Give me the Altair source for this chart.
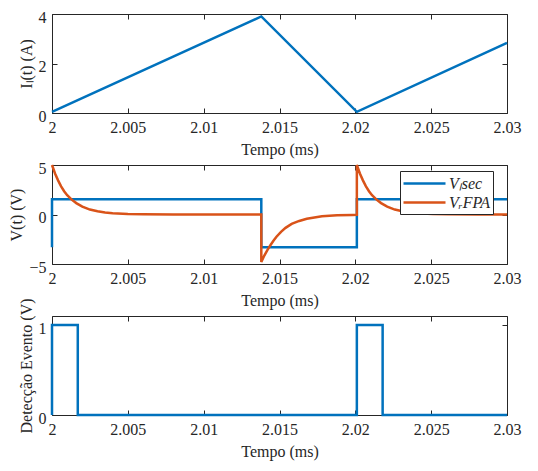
import altair as alt
import pandas as pd

# ---------------- data ----------------
X_TICKS = [2, 2.005, 2.01, 2.015, 2.02, 2.025, 2.03]

# inductor current I_L(t)
t_il = [2.0, 2.0138, 2.0201, 2.03]
il = [0.05, 3.9, 0.05, 2.83]

# V_L sec
t_vl = [2.0, 2.0, 2.0138, 2.0138, 2.0201, 2.0201, 2.03]
vl = [-3.3, 1.55, 1.55, -3.3, -3.3, 1.55, 1.55]

# V_R FPA
t_vr = [2.0, 2.0002, 2.0004, 2.0006, 2.0008, 2.001, 2.0013, 2.0016, 2.002, 2.0025,
        2.003, 2.0035, 2.004, 2.005, 2.006, 2.008, 2.0138,
        2.0138, 2.014, 2.0142, 2.0144, 2.0146, 2.0148, 2.0151, 2.0154, 2.0158, 2.0163,
        2.0168, 2.0173, 2.0178, 2.0188, 2.0198, 2.0201,
        2.0201, 2.0203, 2.0205, 2.0207, 2.0209, 2.0211, 2.0214, 2.0217, 2.0221, 2.0226,
        2.0231, 2.0236, 2.0241, 2.0251, 2.0261, 2.0281, 2.03]
vr = [5.0, 4.15, 3.45, 2.85, 2.35, 1.95, 1.5, 1.15, 0.8, 0.5,
      0.32, 0.2, 0.13, 0.05, 0.02, 0.0, 0.0,
      -4.8, -4.15, -3.6, -3.1, -2.65, -2.25, -1.75, -1.35, -0.95, -0.65,
      -0.43, -0.3, -0.18, -0.08, -0.04, -0.03,
      5.0, 4.15, 3.45, 2.85, 2.35, 1.95, 1.5, 1.15, 0.8, 0.5,
      0.32, 0.2, 0.13, 0.05, 0.02, 0.0, 0.0]

# event detection
t_ev = [2.0, 2.0, 2.0017, 2.0017, 2.0201, 2.0201, 2.0218, 2.0218, 2.03]
ev = [0, 1, 1, 0, 0, 1, 1, 0, 0]

SERIES = ["V\u2097sec", "V\u1d63FPA"]
BLUE = "#0072BD"
ORANGE = "#D95319"
FONT = "Liberation Serif"
INK = "#262626"
W, H = 455, 99

df_il = pd.DataFrame({"t": t_il, "v": il, "i": range(len(t_il))})
df_ev = pd.DataFrame({"t": t_ev, "v": ev, "i": range(len(t_ev))})
df_v = pd.concat([
    pd.DataFrame({"t": t_vl, "v": vl, "i": range(len(t_vl)), "s": SERIES[0]}),
    pd.DataFrame({"t": t_vr, "v": vr, "i": range(len(t_vr)), "s": SERIES[1]}),
])


def axis_main_x():
    return alt.Axis(values=X_TICKS, format="~g", title="Tempo (ms)", orient="bottom",
                    offset=-5, tickSize=5, domain=False, grid=False, labelPadding=6,
                    titlePadding=6, labelFlush=False, labelOverlap=False)


def axis_main_y(title, ticks):
    return alt.Axis(values=ticks, format="~g", title=title, orient="left", offset=-5,
                    tickSize=5, domain=False, grid=False, labelPadding=6, titlePadding=4,
                    labelFlush=False, labelOverlap=False, labelOffset=3)


def panel(df, ytitle, ydom, yticks, color):
    xs = alt.Scale(domain=[2, 2.03], nice=False, zero=False)
    ys = alt.Scale(domain=ydom, nice=False, zero=False)
    main = alt.Chart(df).mark_line(strokeWidth=2.5, clip=False).encode(
        x=alt.X("t:Q", scale=xs, axis=axis_main_x()),
        y=alt.Y("v:Q", scale=ys, axis=axis_main_y(ytitle, yticks)),
        order="i:Q",
        color=color,
    )
    box = alt.Chart(df).mark_line(opacity=0).encode(
        x=alt.X("t:Q", scale=xs, axis=alt.Axis(values=X_TICKS, orient="top", labels=False,
                                                title=None, offset=-5, tickSize=5,
                                                domain=False, grid=False)),
        y=alt.Y("v:Q", scale=ys, axis=alt.Axis(values=yticks, orient="right", labels=False,
                                                title=None, offset=-5, tickSize=5,
                                                domain=False, grid=False)),
        order="i:Q",
    )
    return alt.layer(main, box).resolve_axis(x="independent", y="independent").properties(
        width=W, height=H)


p1 = panel(df_il, "I\u2097(t)  (A)", [0, 4], [0, 2, 4], alt.value(BLUE))
p2 = panel(df_v, "V(t)  (V)", [-5, 5], [-5, 0, 5],
           alt.Color("s:N", scale=alt.Scale(domain=SERIES, range=[BLUE, ORANGE]),
                     legend=alt.Legend(title=None, orient="none", legendX=W - 107, legendY=6,
                                       symbolType="M-1.125,0L4.125,0", symbolSize=256,
                                       symbolStrokeWidth=2.5, labelFont=FONT,
                                       labelFontStyle="italic", labelFontSize=16,
                                       labelColor=INK, strokeColor=INK, fillColor="white",
                                       padding=3, rowPadding=1, labelOffset=27,
                                       labelLimit=200)))
p3 = panel(df_ev, "Detecção Evento (V)", [0, 1.1], [0, 1], alt.value(BLUE))

chart = alt.vconcat(p1, p2, p3, spacing=52, bounds="flush").resolve_scale(
    x="independent", y="independent", color="independent"
).properties(
    padding={"left": 0, "top": 0, "right": 5, "bottom": 1}, background="white"
).configure_view(
    stroke=INK, strokeWidth=1
).configure_axis(
    labelFont=FONT, titleFont=FONT, labelFontSize=16, titleFontSize=16,
    titleFontWeight="normal", labelColor=INK, titleColor=INK, tickColor=INK,
    tickWidth=1
)

chart.save("out.html", embed_options={"renderer": "svg", "actions": False})
